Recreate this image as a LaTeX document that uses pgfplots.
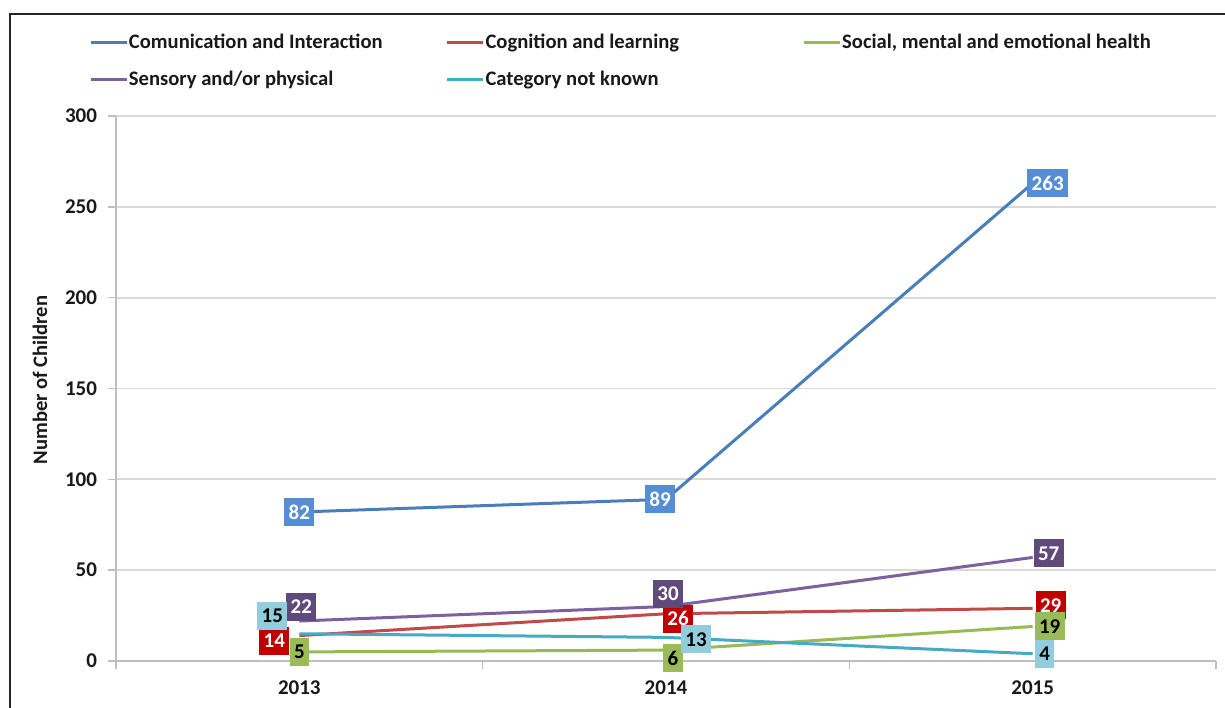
\documentclass[border=0pt]{standalone}
\usepackage{pgfplots}
\pgfplotsset{compat=1.18}
\usepackage{pgfplotstable}
\usepackage{fontspec}
\setmainfont{Carlito}

\definecolor{lBlue}{HTML}{4A7EBB}
\definecolor{lRed}{HTML}{BE4B48}
\definecolor{lGreen}{HTML}{98B954}
\definecolor{lPurple}{HTML}{7D60A0}
\definecolor{lCyan}{HTML}{46AAC5}
\definecolor{bBlue}{HTML}{558ED5}
\definecolor{bRed}{HTML}{C00000}
\definecolor{bGreen}{HTML}{9BBB59}
\definecolor{bPurple}{HTML}{604A7B}
\definecolor{bCyan}{HTML}{93CDDD}
\definecolor{gridc}{HTML}{D9D9D9}
\definecolor{axisc}{HTML}{BFBFBF}

\pgfplotstableread{
x y dx dy
0 82 0 0
1 89 -3 0
2 263 7.5 0
}\comm
\pgfplotstableread{
x y dx dy
0 14 -12.5 -2.5
1 26 6 -2.5
2 29 9 1.5
}\cogn
\pgfplotstableread{
x y dx dy
0 5 0 0
1 6 3.5 -4
2 19 8.5 0
}\soci
\pgfplotstableread{
x y dx dy
0 22 1 7
1 30 1 6.5
2 57 8 2
}\sens
\pgfplotstableread{
x y dx dy
0 15 -13.5 9
1 13 15 -1
2 4 6 0
}\catn

\pgfplotsset{
  lab/.style 2 args={draw=none, mark=none, forget plot,
    nodes near coords, point meta=explicit symbolic,
    visualization depends on={\thisrow{dx}\as\dx},
    visualization depends on={\thisrow{dy}\as\dy},
    every node near coord/.append style={anchor=center, xshift=\dx pt, yshift=\dy pt,
      fill=#1, text=#2, draw=none, inner xsep=2.2pt, inner ysep=0pt, minimum height=14pt,
      font=\bfseries\fontsize{10.5}{12}\selectfont}},
  leg/.style={legend image code/.code={\draw[line width=1.5pt,#1] (0pt,0pt) -- (18pt,0pt);}}
}

\newcommand{\lt}[1]{\makebox[158.5pt][l]{#1}}

\begin{document}
\begin{tikzpicture}
\fill[white] (-58pt,-23pt) rectangle (554.5pt,330.5pt);
\begin{scope}
\clip (-58pt,-23pt) rectangle (554.5pt,330.5pt);
\draw[line width=1.1pt, color=black!85] (-53pt,-40pt) -- (-53pt,323.5pt) -- (600pt,323.5pt);
\end{scope}
\begin{axis}[
  at={(0,0)}, anchor=south west,
  scale only axis, width=550pt, height=272.5pt,
  xmin=-0.5, xmax=2.5, ymin=0, ymax=300,
  xtick={-0.5,0.5,1.5,2.5}, xticklabels={},
  extra x ticks={0,1,2}, extra x tick labels={2013,2014,2015},
  extra x tick style={major tick length=0pt, xticklabel style={yshift=-6.5pt}},
  ytick={0,50,...,300},
  yticklabel style={xshift=-2pt},
  axis x line*=bottom, axis y line*=left,
  axis line style={axisc, line width=0.8pt, -},
  tick style={axisc, line width=0.8pt},
  tick align=outside,
  major tick length=4pt,
  ymajorgrids, grid style={gridc, line width=0.9pt},
  /pgf/number format/assume math mode=true,
  tick label style={font=\bfseries\fontsize{10.5}{12}\selectfont, text=black!90},
  ylabel={Number of Children},
  ylabel style={at={(axis description cs:-0.0691,0.5156)}, anchor=center, font=\bfseries\fontsize{10.3}{12}\selectfont, text=black!90},
  legend columns=3,
  legend style={at={(axis description cs:-0.02455,1.1688)}, anchor=north west,
    draw=none, fill=none, inner sep=0pt, row sep=0pt, column sep=0pt,
    font=\bfseries\fontsize{10.3}{12}\selectfont, text=black!90,
    nodes={anchor=west, inner sep=0pt, minimum height=18.5pt},
    /tikz/every odd column/.append style={column sep=0.3pt}},
]
\addplot[lBlue, line width=1.5pt, mark=none, leg=lBlue] table[x=x,y=y] {\comm};
\addlegendentry{\lt{Comunication and Interaction}}
\addplot[lRed, line width=1.5pt, mark=none, leg=lRed] table[x=x,y=y] {\cogn};
\addlegendentry{\lt{Cognition and learning}}
\addplot[lGreen, line width=1.5pt, mark=none, leg=lGreen] table[x=x,y=y] {\soci};
\addlegendentry{\lt{Social, mental and emotional health}}
\addplot[lPurple, line width=1.5pt, mark=none, leg=lPurple] table[x=x,y=y] {\sens};
\addlegendentry{\lt{Sensory and/or physical}}
\addplot[lCyan, line width=1.5pt, mark=none, leg=lCyan] table[x=x,y=y] {\catn};
\addlegendentry{\lt{Category not known}}

\addplot[lab={bBlue}{white}] table[x=x,y=y,meta=y] {\comm};
\addplot[lab={bRed}{white}] table[x=x,y=y,meta=y] {\cogn};
\addplot[lab={bGreen}{black}] table[x=x,y=y,meta=y] {\soci};
\addplot[lab={bPurple}{white}] table[x=x,y=y,meta=y] {\sens};
\addplot[lab={bCyan}{black}] table[x=x,y=y,meta=y] {\catn};
\end{axis}
\pgfresetboundingbox
\path[use as bounding box] (-58pt,-23pt) rectangle (554.5pt,330.5pt);
\end{tikzpicture}
\end{document}
